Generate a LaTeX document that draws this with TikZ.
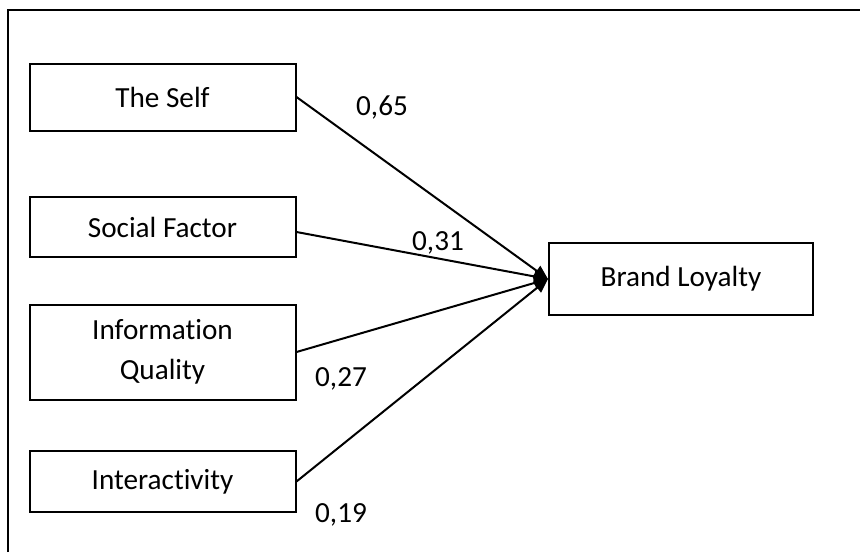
\documentclass[tikz,border=0pt]{standalone}
\usepackage{fontspec}
\setmainfont{Carlito}[Ligatures=NoCommon]
\usetikzlibrary{arrows.meta}

\tikzset{
  factor/.style={draw, line width=1pt, minimum width=133pt, align=center, inner sep=0pt},
  weight/.style={inner sep=0pt},
  path/.style={line width=1pt, -{Triangle[length=7pt,width=6pt]}}
}

\begin{document}
\begin{tikzpicture}[x=0.5pt, y=-0.5pt, every node/.style={font=\fontsize{14.6}{20}\selectfont}]
  \useasboundingbox (0,0) rectangle (860,552);
  \draw[line width=1pt] (8,552) -- (8,10) -- (860,10);

  \node[factor, minimum height=33.5pt] (self) at (162.5,97) {The Self};
  \node[factor, minimum height=30pt] (social) at (162.5,227) {Social Factor};
  \node[factor, minimum height=47.5pt] (info) at (162.5,352) {Information\\Quality};
  \node[factor, minimum height=30.5pt] (inter) at (162.5,481.5) {Interactivity};
  \node[factor, minimum width=132pt, minimum height=36pt] (loyal) at (681,279) {Brand Loyalty};

  \draw[path] (self.east) -- (loyal.west);
  \draw[path] ([yshift=-2.5pt]social.east) -- (loyal.west);
  \draw[path] (info.east) -- (loyal.west);
  \draw[path] (inter.east) -- (loyal.west);

  \node[weight] (w1) at (382,108) {0,65};
  \node[weight] (w2) at (438,243) {0,31};
  \node[weight] (w3) at (341,379) {0,27};
  \node[weight] (w4) at (341,515) {0,19};
\end{tikzpicture}
\end{document}
